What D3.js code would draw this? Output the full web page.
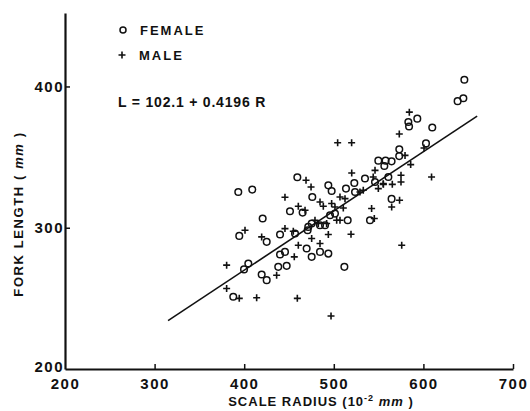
<!DOCTYPE html>
<html>
<head>
<meta charset="utf-8">
<script src="https://cdn.jsdelivr.net/npm/d3@7"></script>
<style>
  body { margin: 0; background: #fff; }
  svg text { font-family: "Liberation Sans", Arial, sans-serif; font-weight: bold; fill: #111; }
</style>
</head>
<body>
<div id="chart"></div>
<script>
const canvWidth = 530, canvHeight = 411;

// scale radius (10^-2 mm), fork length (mm)
const femaleR = [645.7, 638.2, 644.6, 583.2, 584.0, 593.2, 609.9, 602.9, 573.1, 573.0, 549.7, 557.8, 564.5, 556.4, 560.9,
  459.3, 493.9, 497.6, 513.6, 522.9, 534.8, 476.0, 564.5, 393.4, 409.0, 451.1, 515.5, 540.4, 440.0, 475.3, 493.9, 447.4,
  511.8, 425.1, 420.6, 394.5, 399.8, 404.6, 419.5, 387.8, 425.1, 465.2, 495.8, 501.3, 475.3, 471.5, 484.6, 490.2, 456.7,
  470.8, 469.7, 484.6, 440.0, 445.5, 438.0, 523.7, 546.0];
const femaleL = [404.7, 389.6, 391.7, 374.8, 371.7, 377.2, 371.0, 359.7, 355.5, 350.7, 347.5, 347.5, 347.0, 343.7, 335.9,
  335.7, 330.0, 326.0, 327.7, 331.7, 334.8, 321.8, 320.4, 325.3, 327.0, 311.7, 305.3, 305.3, 295.2, 279.4, 281.7, 273.0,
  272.3, 262.9, 306.5, 294.2, 270.5, 274.7, 266.9, 251.1, 290.0, 310.7, 308.8, 310.0, 303.0, 300.6, 301.8, 301.8, 295.9,
  298.2, 285.3, 282.9, 281.0, 282.9, 272.3, 325.3, 332.4];

const maleR = [584.3, 573.1, 504.3, 519.9, 600.7, 579.5, 585.8, 546.0, 520.0, 575.0, 609.1, 469.0, 474.6, 565.3, 575.0,
  445.5, 573.4, 542.2, 564.6, 475.3, 484.6, 493.9, 519.2, 460.4, 455.9, 575.8, 436.2, 459.3, 496.9, 400.9, 419.5, 380.4,
  380.4, 394.5, 413.9, 460.4, 467.9, 488.3, 501.3, 510.6, 503.2, 479.0, 482.7, 492.0, 445.5, 454.8, 545.2, 506.9, 484.6,
  497.6, 506.9, 512.5, 529.2, 532.9, 544.0, 549.7, 555.2, 555.3];
const maleL = [381.8, 366.3, 360.2, 360.2, 356.4, 351.2, 344.7, 340.6, 338.7, 337.1, 335.9, 333.6, 328.8, 330.7, 332.4,
  321.6, 319.4, 313.6, 314.7, 292.4, 288.8, 295.2, 295.4, 287.6, 279.4, 287.6, 266.4, 250.0, 237.5, 298.2, 293.5, 273.5,
  257.0, 250.0, 250.4, 315.2, 312.4, 315.2, 314.7, 314.0, 305.3, 305.3, 303.0, 303.0, 299.4, 297.5, 306.5, 305.3, 318.2,
  317.1, 321.8, 320.6, 325.3, 326.5, 335.9, 327.7, 331.2, 330.7];

const xTicks = [200, 300, 400, 500, 600, 700];
const yTicks = [200, 300, 400];

// regression L = 102.1 + 0.4196 R
const fitA = 102.1, fitB = 0.4196;
const fitRange = [315, 660];

const svg = d3.select('#chart')
    .append('svg')
    .attr('width', canvWidth)
    .attr('height', canvHeight);

const xScale = d3.scaleLinear().domain([200, 700]).range([65, 513]);
const yScale = d3.scaleLinear().domain([200, 452]).range([369, 13]);

// axes
const xAxis = svg.append('g')
    .attr('transform', `translate(0,${yScale(200)})`)
    .call(d3.axisBottom(xScale).tickValues(xTicks).tickSizeInner(-5).tickSizeOuter(0).tickPadding(9));
const yAxis = svg.append('g')
    .attr('transform', `translate(${xScale(200)},0)`)
    .call(d3.axisLeft(yScale).tickValues(yTicks).tickSizeInner(-5).tickSizeOuter(0).tickPadding(1));

[xAxis, yAxis].forEach(function (ax) {
    ax.select('.domain').attr('stroke', '#111').attr('stroke-width', 2.2);
    ax.selectAll('.tick line').attr('stroke', '#111').attr('stroke-width', 1.5);
    ax.selectAll('.tick text')
        .style('font-size', '15px')
        .style('letter-spacing', '1.5px')
        .style('font-family', '"Liberation Sans", Arial, sans-serif')
        .style('font-weight', 'bold')
        .attr('fill', '#111');
});
xAxis.selectAll('.tick').filter(d => d === 200).select('line').remove();
yAxis.selectAll('.tick').filter(d => d === 200).select('line').remove();
yAxis.selectAll('.tick text').attr('dy', '0.35em');
// corner label sits a little higher so the two 200s do not collide
yAxis.selectAll('.tick').filter(d => d === 200).select('text').attr('dy', '0.15em');

// axis titles
svg.append('text')
    .attr('x', 321)
    .attr('y', 406)
    .attr('text-anchor', 'middle')
    .style('font-size', '13px')
    .style('letter-spacing', '1px')
    .html('SCALE RADIUS (10<tspan dy="-5" font-size="9px">-2</tspan><tspan dy="5" font-style="italic"> mm</tspan> )');

svg.append('text')
    .attr('transform', 'translate(23,214) rotate(-90)')
    .attr('text-anchor', 'middle')
    .style('font-size', '13px')
    .style('letter-spacing', '1.6px')
    .html('FORK LENGTH ( <tspan font-style="italic">mm</tspan> )');

// regression line
const fitLine = d3.line()
    .x(d => xScale(d))
    .y(d => yScale(fitA + fitB * d));
svg.append('path')
    .datum(fitRange)
    .attr('d', fitLine)
    .attr('fill', 'none')
    .attr('stroke', '#111')
    .attr('stroke-width', 1.6);

// points
svg.append('g')
    .selectAll('circle')
    .data(d3.range(femaleR.length))
    .enter()
    .append('circle')
    .attr('cx', i => xScale(femaleR[i]))
    .attr('cy', i => yScale(femaleL[i]))
    .attr('r', 3.3)
    .attr('fill', 'none')
    .attr('stroke', '#111')
    .attr('stroke-width', 1.5);

svg.append('g')
    .selectAll('path')
    .data(d3.range(maleR.length))
    .enter()
    .append('path')
    .attr('d', 'M-3.5,0H3.5M0,-3.5V3.5')
    .attr('transform', i => `translate(${xScale(maleR[i])},${yScale(maleL[i])})`)
    .attr('stroke', '#111')
    .attr('stroke-width', 1.6);

// legend
const legend = svg.append('g').attr('id', 'legend');
legend.append('circle')
    .attr('cx', 123).attr('cy', 30).attr('r', 3)
    .attr('fill', 'none').attr('stroke', '#111').attr('stroke-width', 1.5);
legend.append('text')
    .attr('x', 140).attr('y', 35)
    .style('font-size', '13px').style('letter-spacing', '2px')
    .text('FEMALE');
legend.append('path')
    .attr('d', 'M-3.5,0H3.5M0,-3.5V3.5')
    .attr('transform', 'translate(122,55)')
    .attr('stroke', '#111').attr('stroke-width', 1.6);
legend.append('text')
    .attr('x', 139).attr('y', 60)
    .style('font-size', '13px').style('letter-spacing', '2px')
    .text('MALE');
legend.append('text')
    .attr('x', 118).attr('y', 107)
    .style('font-size', '14px')
    .style('letter-spacing', '0.8px')
    .text('L = 102.1 + 0.4196 R');
</script>
</body>
</html>
